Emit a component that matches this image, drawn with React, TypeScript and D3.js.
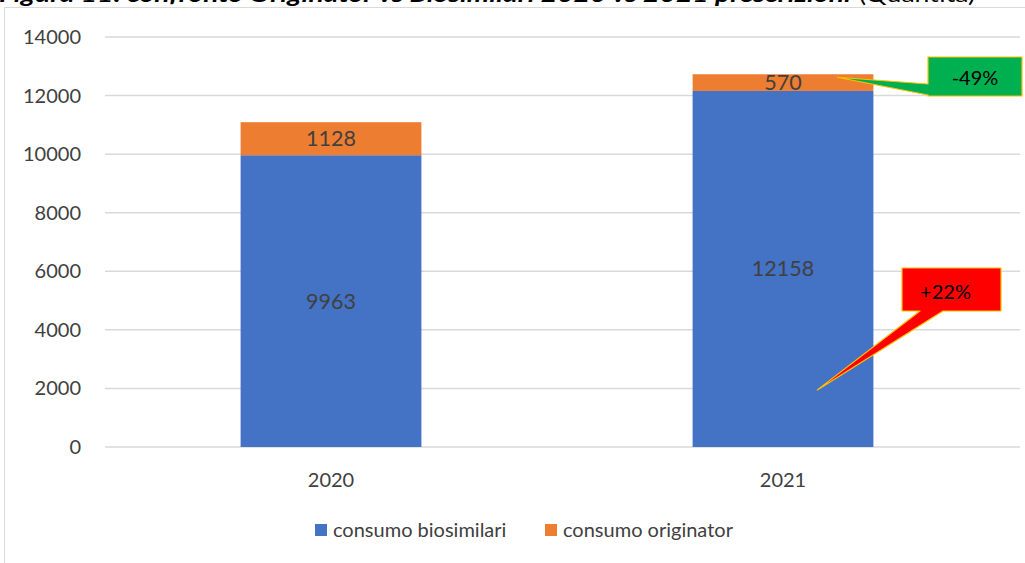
import React from "react";
import * as d3 from "d3";

const categories = ["2020", "2021"];
const biosimilari = [9963, 12158];
const originator = [1128, 570];
const yTicks = [0, 2000, 4000, 6000, 8000, 10000, 12000, 14000];
const seriesNames = ["consumo biosimilari", "consumo originator"];
const seriesColors = ["#4472C4", "#ED7D31"];
const callouts = [
  { label: "-49%", fill: "#00B050" },
  { label: "+22%", fill: "#FF0000" },
];

const W = 1025;
const H = 563;
const FONT = "Lato, 'Open Sans', sans-serif";

export default function App() {
  const x = d3
    .scaleBand<string>()
    .domain(categories)
    .range([105, 1009])
    .paddingInner(0.6)
    .paddingOuter(0.3);
  const y = d3.scaleLinear().domain([0, 14000]).range([447, 37]);
  const bw = x.bandwidth();

  const stacks = categories.map((c, i) => ({
    c,
    b0: 0,
    b1: biosimilari[i],
    o0: biosimilari[i],
    o1: biosimilari[i] + originator[i],
  }));

  const x21 = x("2021")!;
  const greenTipX = x21 + bw * 0.8;
  const greenTipY = y(12728) + 3;
  const gx0 = 928, gy0 = 57, gx1 = 1022, gy1 = 96;
  const rx0 = 902, ry0 = 268, rx1 = 1001, ry1 = 311;
  const redTipX = x21 + bw * 0.69;
  const redTipY = y(1950);

  const greenPath = `M${gx0},${gy0} L${gx1},${gy0} L${gx1},${gy1} L${gx0},${gy1} L${gx0},${gy1 - 1} L${greenTipX},${greenTipY} L${gx0},${gy0 + 27} Z`;
  const redPath = `M${rx0},${ry0} L${rx1},${ry0} L${rx1},${ry1} L${rx0 + 41},${ry1} L${redTipX},${redTipY} L${rx0 + 18},${ry1} L${rx0},${ry1} Z`;

  return (
    <svg
      width={W}
      height={H}
      style={{ position: "absolute", left: 0, top: 0, background: "#fff" }}
      fontFamily={FONT}
    >
      {/* title (cropped at top, as in the source) */}
      <text x={-1} y={2} fontSize={21} fill="#000">
        <tspan fontWeight="bold" fontStyle="italic" textLength={852} lengthAdjust="spacingAndGlyphs">
          Figura 11: confronto Originator vs Biosimilari 2020 vs 2021 prescrizioni
        </tspan>
        <tspan x={859} fontSize={21} textLength={116} lengthAdjust="spacingAndGlyphs">(Quantità)</tspan>
      </text>

      {/* chart frame */}
      <rect x={4.5} y={7.5} width={1030} height={600} fill="none" stroke="#D9D9D9" strokeWidth={1} />

      {/* gridlines + y labels */}
      {yTicks.map((t) => (
        <g key={t}>
          <line x1={105} x2={1020} y1={y(t)} y2={y(t)} stroke="#D9D9D9" strokeWidth={1.5} />
          <text x={81} y={y(t)} dy="0.35em" textAnchor="end" fontSize={20} fill="#404040">
            {t}
          </text>
        </g>
      ))}

      {/* bars */}
      {stacks.map((s) => (
        <g key={s.c}>
          <rect x={x(s.c)} y={y(s.b1)} width={bw} height={y(s.b0) - y(s.b1)} fill={seriesColors[0]} />
          <rect x={x(s.c)} y={y(s.o1)} width={bw} height={y(s.o0) - y(s.o1)} fill={seriesColors[1]} />
          <text
            x={x(s.c)! + bw / 2}
            y={y((s.b0 + s.b1) / 2)}
            dy="0.35em"
            textAnchor="middle"
            fontSize={21.5}
            fill="#404040"
          >
            {s.b1 - s.b0}
          </text>
          <text
            x={x(s.c)! + bw / 2}
            y={y((s.o0 + s.o1) / 2)}
            dy="0.35em"
            textAnchor="middle"
            fontSize={21.5}
            fill="#404040"
          >
            {s.o1 - s.o0}
          </text>
          <text x={x(s.c)! + bw / 2} y={480} dy="0.35em" textAnchor="middle" fontSize={20} fill="#404040">
            {s.c}
          </text>
        </g>
      ))}

      {/* callouts */}
      <path d={greenPath} fill={callouts[0].fill} stroke="#FFC000" strokeWidth={1.2} strokeLinejoin="round" />
      <text x={(gx0 + gx1) / 2} y={(gy0 + gy1) / 2 + 1} dy="0.35em" textAnchor="middle" fontSize={20} fill="#000">
        {callouts[0].label}
      </text>
      <path d={redPath} fill={callouts[1].fill} stroke="#FFC000" strokeWidth={1.2} strokeLinejoin="round" />
      <text x={(rx0 + rx1) / 2 - 6} y={ry0 + 24} dy="0.35em" textAnchor="middle" fontSize={20} fill="#000">
        {callouts[1].label}
      </text>

      {/* legend */}
      {seriesNames.map((n, i) => {
        const lx = i === 0 ? 315 : 545;
        return (
          <g key={n}>
            <rect x={lx} y={524} width={12} height={12} fill={seriesColors[i]} />
            <text x={lx + 18} y={530} dy="0.35em" fontSize={20} fill="#404040">
              {n}
            </text>
          </g>
        );
      })}
    </svg>
  );
}
